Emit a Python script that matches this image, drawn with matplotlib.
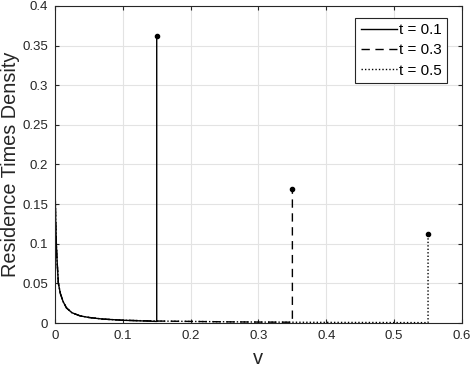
import numpy as np
import matplotlib
matplotlib.use('Agg')
import matplotlib.pyplot as plt

plt.rcParams['font.family'] = ['Liberation Sans', 'DejaVu Sans']

# density curves (continuous part, then the atom)
v_01 = [0, 0.001, 0.002, 0.003, 0.005, 0.008, 0.012, 0.017, 0.025, 0.037, 0.05, 0.07, 0.1, 0.15]
d_01 = [0.18, 0.13, 0.10, 0.08, 0.05, 0.037, 0.027, 0.019, 0.013, 0.009, 0.007, 0.005, 0.0035, 0.002]
v_03 = [0, 0.001, 0.002, 0.003, 0.005, 0.008, 0.012, 0.017, 0.025, 0.037, 0.05, 0.07, 0.1, 0.15, 0.2, 0.25, 0.3, 0.35]
d_03 = [0.18, 0.13, 0.10, 0.08, 0.05, 0.037, 0.027, 0.019, 0.013, 0.009, 0.007, 0.005, 0.0035, 0.0025, 0.002, 0.0015, 0.0012, 0.001]
v_05 = [0, 0.001, 0.002, 0.003, 0.005, 0.008, 0.012, 0.017, 0.025, 0.037, 0.05, 0.07, 0.1, 0.15, 0.2, 0.3, 0.4, 0.5, 0.55]
d_05 = [0.18, 0.13, 0.10, 0.08, 0.05, 0.037, 0.027, 0.019, 0.013, 0.009, 0.007, 0.005, 0.0035, 0.0025, 0.002, 0.0012, 0.0008, 0.0006, 0.0005]

atom_v = [0.15, 0.35, 0.55]
atom_d = [0.362, 0.169, 0.112]
labels = ['t = 0.1', 't = 0.3', 't = 0.5']
styles = ['-', (0, (6, 4)), (0, (1, 1.5))]

fig = plt.figure(figsize=(4.76, 3.73), dpi=100)
ax = fig.add_axes([0.1155, 0.134, 0.855, 0.850])

curves = [(v_01, d_01), (v_03, d_03), (v_05, d_05)]
for (v, d), av, ad, lab, ls in zip(curves, atom_v, atom_d, labels, styles):
    ax.plot(list(v) + [av], list(d) + [ad], color='black', lw=1.0, linestyle=ls, label=lab)
    ax.plot([av], [ad], 'o', color='black', ms=3)

ax.set_xlim(0, 0.6)
ax.set_ylim(0, 0.4)
ax.set_xticks(np.arange(0, 0.61, 0.1))
ax.set_yticks(np.arange(0, 0.41, 0.05))
ax.set_xticklabels(['0', '0.1', '0.2', '0.3', '0.4', '0.5', '0.6'])
ax.set_yticklabels(['0', '0.05', '0.1', '0.15', '0.2', '0.25', '0.3', '0.35', '0.4'])
ax.grid(True, color='#e3e3e3', lw=0.8)
ax.set_axisbelow(True)
ax.tick_params(direction='in', length=3, labelsize=9.5, pad=5, top=True, right=True, colors='#262626')
for s in ax.spines.values():
    s.set_color('#262626')
    s.set_linewidth(0.8)

ax.set_xlabel('v', fontsize=14.5, color='#262626', labelpad=5)
ax.set_ylabel('Residence Times Density', fontsize=14.3, color='#262626')
ax.yaxis.set_label_coords(-0.086, 0.5)

leg = ax.legend(loc='upper right', fontsize=11, handlelength=2.35, handletextpad=0.15,
                fancybox=False, framealpha=1, borderpad=0.35, labelspacing=0.4,
                borderaxespad=0, bbox_to_anchor=(0.963, 0.962))
leg.get_frame().set_edgecolor('#262626')
leg.get_frame().set_linewidth(0.8)

fig.savefig('out.png', dpi=100)
